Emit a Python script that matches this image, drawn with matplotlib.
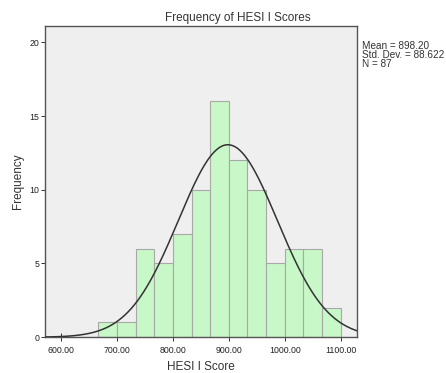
import numpy as np
import matplotlib
matplotlib.use("Agg")
import matplotlib.pyplot as plt

plt.rcParams['font.family'] = ['Liberation Sans', 'DejaVu Sans']

bin_edges = [666.67, 700.0, 733.33, 766.67, 800.0, 833.33, 866.67, 900.0,
             933.33, 966.67, 1000.0, 1033.33, 1066.67, 1100.0]
counts = [1, 1, 6, 5, 7, 10, 16, 12, 10, 5, 6, 6, 2]
mean = 898.20
std = 88.622
n = 87
xticks = [600, 700, 800, 900, 1000, 1100]
xtick_labels = ["600.00", "700.00", "800.00", "900.00", "1000.00", "1100.00"]
yticks = [0, 5, 10, 15, 20]

fig = plt.figure(figsize=(4.46, 3.73), dpi=100)
ax = fig.add_axes([0.101, 0.096, 0.699, 0.834])
ax.set_facecolor('#efefef')

lefts = bin_edges[:-1]
widths = np.diff(bin_edges)
ax.bar(lefts, counts, width=widths, align='edge', color='#c8f7c8',
       edgecolor='#a8a8a8', linewidth=0.8, zorder=2)

bw = widths[0]
xs = np.linspace(571, 1129, 400)
ys = n * bw * np.exp(-0.5 * ((xs - mean) / std) ** 2) / (std * np.sqrt(2 * np.pi))
ax.plot(xs, ys, color='#333333', linewidth=1.1, zorder=3)

ax.set_xlim(571, 1129)
ax.set_ylim(0, 21.1)
ax.set_xticks(xticks)
ax.set_xticklabels(xtick_labels)
ax.set_yticks(yticks)
ax.tick_params(axis='both', labelsize=6.3, width=0.7, color='#333333', labelcolor='#222222')
ax.tick_params(axis='x', direction='inout', length=6, pad=3)
ax.tick_params(axis='y', direction='out', length=3, pad=1)
for s in ax.spines.values():
    s.set_color('#555555')
    s.set_linewidth(1.0)

fig.text(238 / 446, 1 - 18 / 373, "Frequency of HESI I Scores", fontsize=8.5,
         color='#333333', ha='center', va='center')
ax.set_xlabel("HESI I Score", fontsize=8.5, color='#333333', labelpad=4.5)
ax.set_ylabel("Frequency", fontsize=8.5, color='#333333', labelpad=4)

fig.text(0.812, 0.89, "Mean = 898.20\nStd. Dev. = 88.622\nN = 87",
         fontsize=7.2, color='#333333', va='top', ha='left', linespacing=0.9)

fig.savefig("out.png", dpi=100)
